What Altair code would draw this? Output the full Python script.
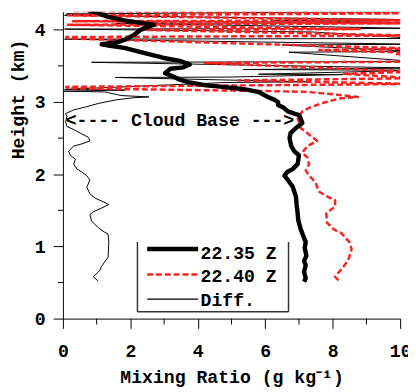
import altair as alt
import pandas as pd

# ---- data (mixing ratio g/kg, height km) ----
q_2235 = [7.15, 7.2, 7.15, 7.2, 7.15, 7.22, 7.17, 7.2, 7.1, 7.05, 6.98, 6.96, 6.93, 6.91, 6.81, 6.67, 6.57,
          6.65, 6.81, 6.96, 6.98, 7.0, 6.86, 6.77, 6.72, 6.75, 6.91, 7.10, 7.05, 7.0, 6.86, 6.67, 6.55, 6.38,
          6.38, 6.28, 6.08, 5.79, 5.41, 5.12, 4.73, 4.24, 3.76, 3.47, 3.23, 3.03, 3.18, 3.57, 3.76, 3.47, 2.99,
          2.40, 1.82, 1.4, 1.15, 1.63, 1.82, 2.11, 2.31, 2.69, 2.40, 1.82, 1.34, 1.05, 0.76]
h_2235 = [0.51, 0.56, 0.65, 0.74, 0.80, 0.87, 0.98, 1.06, 1.18, 1.24, 1.36, 1.46, 1.58, 1.69, 1.83, 1.92, 1.98,
          2.03, 2.07, 2.14, 2.20, 2.26, 2.32, 2.39, 2.50, 2.57, 2.64, 2.71, 2.77, 2.82, 2.84, 2.87, 2.92, 2.96,
          3.0, 3.03, 3.07, 3.14, 3.175, 3.19, 3.21, 3.23, 3.27, 3.31, 3.36, 3.40, 3.46, 3.48, 3.52, 3.57, 3.61,
          3.68, 3.75, 3.78, 3.80, 3.83, 3.86, 3.93, 4.0, 4.07, 4.09, 4.13, 4.18, 4.23, 4.27]

q_2240 = [8.17, 8.07, 8.27, 8.46, 8.56, 8.51, 8.27, 8.02, 7.83, 7.81, 8.07, 8.07, 7.88, 7.59, 7.49, 7.30, 7.2,
          7.3, 7.25, 7.1, 7.25, 7.54, 7.3, 7.05, 6.96, 7.1, 7.35, 7.73, 8.22, 8.75, 7.73, 7.25, 6.28,
          0.15, 0.1, 10.5, 5.2, 10.5, 8.3, 10.5, 4.2, 10.5, 9.9, 10.5, 7.6, 10.5, 0.15, 0.1, 10.5, 2.2, 8.8,
          0.15, 10.5, 0.3, 10.5, 0.15, 10.5, 0.3]
h_2240 = [0.53, 0.58, 0.69, 0.81, 0.96, 1.05, 1.18, 1.24, 1.33, 1.46, 1.55, 1.64, 1.68, 1.76, 1.89, 1.98, 2.05,
          2.14, 2.23, 2.30, 2.39, 2.46, 2.55, 2.64, 2.78, 2.87, 2.93, 2.99, 3.05, 3.07, 3.12, 3.14, 3.15,
          3.19, 3.21, 3.25, 3.30, 3.33, 3.39, 3.42, 3.54, 3.56, 3.66, 3.68, 3.72, 3.74, 3.88, 3.90, 3.92, 4.00, 4.01,
          4.07, 4.09, 4.12, 4.13, 4.20, 4.23, 4.26]

q_diff = [1.05, 0.90, 1.10, 1.14, 1.34, 1.36, 1.34, 1.19, 1.05, 0.85, 0.80, 0.90, 1.14, 1.36, 1.19, 0.95, 0.80,
          0.71, 0.80, 0.71, 0.56, 0.42, 0.32, 0.37, 0.22, 0.17, 0.32, 0.56, 0.80, 0.76, 0.51, 0.32, 0.12, 0.08,
          0.12, 0.08, 0.32, 0.66, 1.05, 1.58, 2.11, 2.55, 1.72, 1.24,
          0.03, 1.85, 0.05, 4.8, 7.2, 1.55, 4.9, 8.3, 5.8, 10.5, 5.35, 10.5, 0.85, 10.5, 6.7, 10.5, 6.5, 10.5,
          0.05, 10.5, 7.4, 0.05, 10.5, 1.55, 10.5, 6.2, 10.5, 0.05, 0.85, 0.1, 7.6, 10.5]
h_diff = [0.52, 0.58, 0.67, 0.72, 0.85, 1.06, 1.17, 1.21, 1.26, 1.35, 1.44, 1.48, 1.53, 1.58, 1.62, 1.67, 1.73,
          1.82, 1.92, 1.98, 2.03, 2.07, 2.14, 2.21, 2.26, 2.32, 2.39, 2.42, 2.46, 2.51, 2.57, 2.62, 2.66, 2.73,
          2.80, 2.84, 2.89, 2.93, 2.98, 3.03, 3.06, 3.07, 3.09, 3.14,
          3.15, 3.165, 3.175, 3.27, 3.28, 3.34, 3.345, 3.38, 3.385, 3.44, 3.45, 3.47, 3.55, 3.56, 3.69, 3.70, 3.79, 3.80,
          3.87, 3.88, 3.97, 4.01, 4.02, 4.09, 4.10, 4.13, 4.14, 4.20, 4.21, 4.22, 4.245, 4.25]

series_names = ["22.35 Z", "22.40 Z", "Diff."]
x_ticks = [0, 2, 4, 6, 8, 10]
x_minor = [1, 3, 5, 7, 9]
y_ticks = [0, 1, 2, 3, 4]
y_minor = [0.5, 1.5, 2.5, 3.5]
annotation = "<---- Cloud Base --->"

rows = []
for name, qs, hs in zip(series_names, [q_2235, q_2240, q_diff], [h_2235, h_2240, h_diff]):
    for i, (q, h) in enumerate(zip(qs, hs)):
        rows.append({"series": name, "q": q, "h": h, "i": i})
df = pd.DataFrame(rows)

FONT = "Liberation Mono"
FS = 18.5
RED = "#ff1f1f"
XT = "Mixing Ratio (g kg\u207b\u00b9)"
YT = "Height (km)"

xs = alt.Scale(domain=[0, 10], nice=False, zero=False)
ys = alt.Scale(domain=[0, 4.25], nice=False, zero=False)

x_axis = alt.Axis(values=x_ticks, format="d", tickSize=10, tickColor="black", domainColor="black", grid=False,
                  labelFont=FONT, labelFontSize=FS, labelFontWeight="bold", labelColor="black",
                  labelPadding=14, labelFlush=False,
                  title=XT, titleFont=FONT, titleFontSize=FS,
                  titleFontWeight="bold", titleColor="black", titleY=50, titleBaseline="top")
y_axis = alt.Axis(values=y_ticks, format="d", tickSize=10, tickColor="black", domainColor="black", grid=False,
                  labelFont=FONT, labelFontSize=FS, labelFontWeight="bold", labelColor="black",
                  labelPadding=8, labelFlush=False,
                  title=YT, titleFont=FONT, titleFontSize=FS, titleFontWeight="bold",
                  titleColor="black", titleX=-46, titleY=89, titleBaseline="middle", titleAlign="center",
                  titleAngle=-90)

X = alt.X("q:Q", scale=xs, axis=x_axis, title=XT)
Y = alt.Y("h:Q", scale=ys, axis=y_axis, title=YT)


def profile(name, color, width, dash=None):
    kw = dict(color=color, strokeWidth=width, clip=True, strokeJoin="round")
    if dash:
        kw["strokeDash"] = dash
    return alt.Chart(df).transform_filter(alt.datum.series == name).mark_line(**kw).encode(
        x=X, y=Y, order="i:Q")


diff_line = profile("Diff.", "black", 1)
red_line = profile("22.40 Z", RED, 2.5, dash=[6, 3])
black_line = profile("22.35 Z", "black", 4.5)

xminor = alt.Chart(pd.DataFrame({"q": x_minor})).mark_rule(color="black", strokeWidth=1).encode(
    x=X, y=alt.value(313), y2=alt.value(319))
yminor = alt.Chart(pd.DataFrame({"h": y_minor})).mark_rule(color="black", strokeWidth=1).encode(
    y=Y, x=alt.value(-5), x2=alt.value(0))

cloud = alt.Chart().mark_text(font=FONT, fontSize=FS, fontWeight="bold", color="black",
                              align="center", baseline="middle").encode(
    x=alt.datum(3.47), y=alt.datum(2.755), text=alt.value(annotation))

# legend (drawn as annotation)
box_l, box_r, box_t, box_b = 2.21, 6.69, 1.06, 0.095
box_style = dict(color="#333333", strokeWidth=1.5)
box = [
    alt.Chart().mark_rule(**box_style).encode(x=alt.datum(box_l), y=alt.datum(box_b), y2=alt.datum(box_t)),
    alt.Chart().mark_rule(**box_style).encode(x=alt.datum(box_r), y=alt.datum(box_b), y2=alt.datum(box_t)),
    alt.Chart().mark_rule(**box_style).encode(x=alt.datum(box_l), x2=alt.datum(box_r), y=alt.datum(box_b)),
]
leg_y = [0.965, 0.61, 0.27]
leg_txt_y = [0.91, 0.59, 0.26]
leg_styles = [dict(color="black", strokeWidth=4.5),
              dict(color=RED, strokeWidth=2.5, strokeDash=[6, 3]),
              dict(color="black", strokeWidth=1.2)]
legend = []
for name, ly, ty, st in zip(series_names, leg_y, leg_txt_y, leg_styles):
    legend.append(alt.Chart().mark_rule(**st).encode(x=alt.datum(2.50), x2=alt.datum(4.01), y=alt.datum(ly)))
    legend.append(alt.Chart().mark_text(font=FONT, fontSize=FS, fontWeight="bold", color="black",
                                        align="left", baseline="middle").encode(
        x=alt.datum(4.08), y=alt.datum(ty), text=alt.value(name)))

chart = alt.layer(diff_line, red_line, black_line, xminor, yminor, cloud, *box, *legend).properties(
    width=344, height=313,
    padding={"left": 56, "top": 0, "right": 8, "bottom": 71},
    autosize=alt.AutoSizeParams(type="none"),
    background="white",
).configure_view(stroke=None)

chart.save("out.html", embed_options={"renderer": "svg", "actions": False})
